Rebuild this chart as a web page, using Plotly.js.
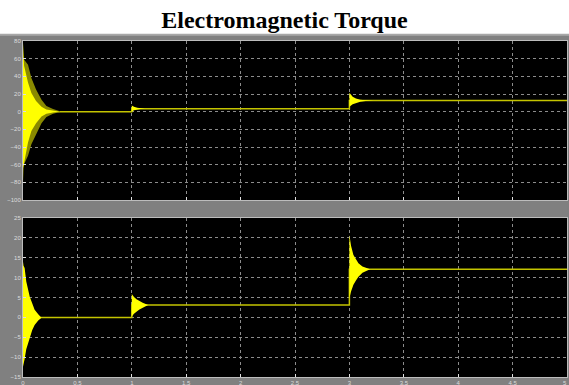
<!DOCTYPE html>
<html>
<head>
<meta charset="utf-8">
<script src="https://cdn.plot.ly/plotly-3.0.1.min.js"></script>
<style>html,body{margin:0;padding:0;background:#fff;}#chart{width:569px;height:385px;}</style>
</head>
<body>
<div id="chart"></div>
<script>
// ---- Data ----
// steady (mean) torque level, piecewise
const stepT      = [0, 1, 1, 3, 3, 5];
const topLevel   = [0, 0, 3.4, 3.4, 12.5, 12.5];
const botLevel   = [0, 0, 3.1, 3.1, 12.1, 12.1];

// Top subplot, start-up transient (outer, darker envelope)
const topT0      = [0, 0.004, 0.046, 0.077, 0.12, 0.17, 0.215, 0.276, 0.34];
const topOutUp   = [62, 60, 53, 38, 25, 13.6, 6.5, 3, 0.5];
const topOutLo   = [-62, -60, -50, -37, -25, -13, -6, -2.5, -0.5];
// Top subplot, start-up transient (inner, bright envelope)
const topInT     = [0, 0.003, 0.01, 0.046, 0.077, 0.12, 0.17, 0.215, 0.276, 0.34];
const topInUp    = [78, 58, 52, 33, 21, 12, 5.5, 2.5, 1, 0.2];
const topInLo    = [-80, -64, -58, -35, -22, -13, -5.5, -2.5, -1, -0.2];
// Top subplot, load step at t=1
const topT1      = [1, 1.02, 1.05, 1.08, 1.12];
const topUp1     = [7, 5.5, 4.5, 4, 3.4];
const topLo1     = [0, 1.5, 2.5, 3, 3.4];
// Top subplot, load step at t=3
const topT3      = [3, 3.03, 3.06, 3.1, 3.15, 3.22];
const topUp3     = [21.5, 17, 15, 13.5, 12.8, 12.5];
const topLo3     = [5.7, 8.5, 10, 11.2, 12, 12.5];

// Bottom subplot transients
const botT0      = [0, 0.005, 0.015, 0.03, 0.062, 0.085, 0.107, 0.14, 0.17];
const botUp0     = [14, 13, 12.4, 9, 5.2, 3.2, 1.9, 0.8, 0.1];
const botLo0     = [-12.4, -11.5, -10.5, -8, -5.2, -3.2, -1.9, -0.8, -0.1];
const botT1      = [1, 1.02, 1.043, 1.07, 1.1, 1.15];
const botUp1     = [5.9, 5.1, 4.55, 4.1, 3.7, 3.1];
const botLo1     = [0.2, 0.9, 1.4, 2.0, 2.5, 3.1];
const botT3      = [3, 3.015, 3.037, 3.06, 3.083, 3.12, 3.19];
const botUp3     = [20.7, 18, 15.7, 14.5, 13.6, 12.8, 12.1];
const botLo3     = [4.8, 6.5, 8.2, 9.3, 10.2, 11.2, 12.1];

// Tick labels
const xTicks     = [0, 0.5, 1, 1.5, 2, 2.5, 3, 3.5, 4, 4.5, 5];
const xTickText  = ['0', '0.5', '1', '1.5', '2', '2.5', '3', '3.5', '4', '4.5', '5'];
const topYTicks  = [-100, -80, -60, -40, -20, 0, 20, 40, 60, 80];
const botYTicks  = [-15, -10, -5, 0, 5, 10, 15, 20, 25];

// ---- Build traces ----
const BRIGHT = '#ffff00';
const OLIVE = '#8a8a00';
const LINE = '#c4c400';

function band(t, up, lo, color, xa, ya) {
  const xs = t.concat(t.slice().reverse());
  const ys = up.concat(lo.slice().reverse());
  return {x: xs, y: ys, xaxis: xa, yaxis: ya, type: 'scatter', mode: 'lines',
          fill: 'toself', fillcolor: color, line: {width: 0, color: color},
          hoverinfo: 'skip', showlegend: false};
}
function level(t, v, xa, ya) {
  return {x: t, y: v, xaxis: xa, yaxis: ya, type: 'scatter', mode: 'lines',
          line: {color: LINE, width: 1.5}, showlegend: false};
}

const traces = [
  level(stepT, topLevel, 'x2', 'y2'),
  band(topT0, topOutUp, topOutLo, OLIVE, 'x2', 'y2'),
  band(topInT, topInUp, topInLo, BRIGHT, 'x2', 'y2'),
  band(topT1, topUp1, topLo1, BRIGHT, 'x2', 'y2'),
  band(topT3, topUp3, topLo3, BRIGHT, 'x2', 'y2'),
  level(stepT, botLevel, 'x', 'y'),
  band(botT0, botUp0, botLo0, BRIGHT, 'x', 'y'),
  band(botT1, botUp1, botLo1, BRIGHT, 'x', 'y'),
  band(botT3, botUp3, botLo3, BRIGHT, 'x', 'y')
];

const tickFont = {family: 'Arial, Liberation Sans, sans-serif', size: 6, color: '#dcdcdc'};
const axBase = {
  showgrid: true, gridcolor: '#8c8c8c', griddash: 'dot', gridwidth: 1,
  zeroline: false, showline: true, linecolor: '#bdbdbd', linewidth: 1, mirror: true,
  ticks: 'inside', ticklen: 3, tickcolor: '#e0e0e0', tickfont: tickFont, fixedrange: true
};

const gap = 18 / 336;
const h = 159 / 336;
const grayTop = (377 - 34) / 336;

const layout = {
  width: 569, height: 385,
  margin: {l: 23, r: 2, t: 41, b: 8, pad: 0},
  paper_bgcolor: '#808080',
  plot_bgcolor: '#000000',
  showlegend: false,
  title: {text: '<b>Electromagnetic Torque</b>', x: 0.5, xref: 'container', xanchor: 'center',
          y: 0.948, yref: 'container', yanchor: 'middle',
          font: {family: 'Liberation Serif, Times New Roman, serif', size: 24, color: '#000000'}},
  xaxis: Object.assign({}, axBase, {domain: [0, 1], anchor: 'y', range: [0, 5],
          tickvals: xTicks, ticktext: xTickText}),
  yaxis: Object.assign({}, axBase, {domain: [0, h], anchor: 'x', range: [-15, 25],
          tickvals: botYTicks}),
  xaxis2: Object.assign({}, axBase, {domain: [0, 1], anchor: 'y2', range: [0, 5],
          tickvals: xTicks, showticklabels: false}),
  yaxis2: Object.assign({}, axBase, {domain: [h + gap, 1], anchor: 'x2', range: [-100, 80],
          tickvals: topYTicks}),
  annotations: [
    {x: xTicks[xTicks.length - 1], xref: 'x', y: 0, yref: 'paper', yanchor: 'top', xanchor: 'right',
     xshift: 2, yshift: -1, text: xTickText[xTickText.length - 1], showarrow: false, font: tickFont}
  ],
  shapes: [
    {type: 'rect', xref: 'paper', yref: 'paper', x0: -0.1, x1: 1.1,
     y0: grayTop, y1: 1.2, fillcolor: '#ffffff', line: {width: 0}, layer: 'below'},
    {type: 'line', xref: 'paper', yref: 'paper', x0: -0.1, x1: 1.1,
     y0: grayTop - 0.002, y1: grayTop - 0.002, line: {color: '#a8a8a8', width: 2}, layer: 'below'}
  ]
};

Plotly.newPlot('chart', traces, layout, {displayModeBar: false, staticPlot: true});
</script>
</body>
</html>
